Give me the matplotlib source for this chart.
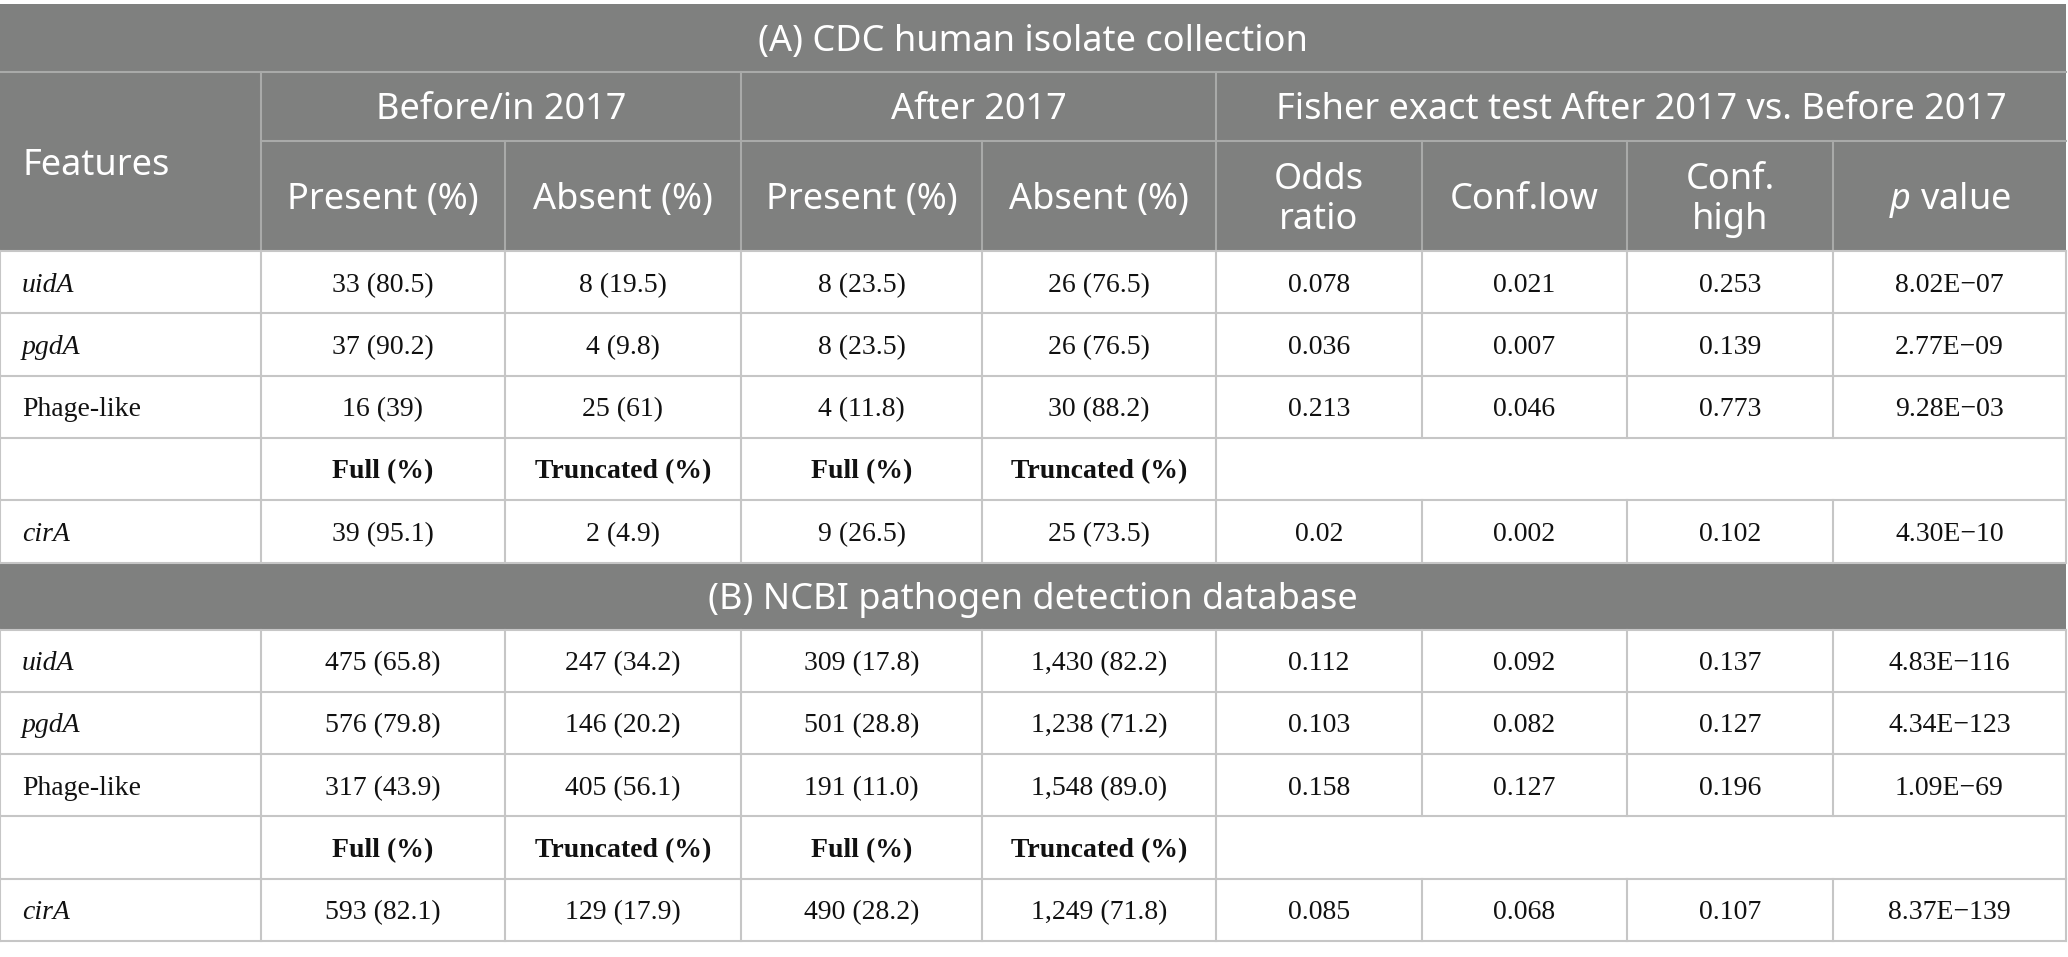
import matplotlib.pyplot as plt
from matplotlib.patches import Rectangle

plt.rcParams['mathtext.fontset'] = 'custom'
plt.rcParams['mathtext.rm'] = 'Noto Sans'
plt.rcParams['mathtext.it'] = 'Noto Sans:italic'

# table content
title_a = '(A) CDC human isolate collection'
title_b = '(B) NCBI pathogen detection database'
groups = ['Before/in 2017', 'After 2017', 'Fisher exact test After 2017 vs. Before 2017']
subheaders = ['Present (%)', 'Absent (%)', 'Present (%)', 'Absent (%)',
              'Odds\nratio', 'Conf.low', 'Conf.\nhigh', '$p$ value']
features = ['uidA', 'pgdA', 'Phage-like', '', 'cirA']
italic_feat = ['uidA', 'pgdA', 'cirA']
full_labels = ['Full (%)', 'Truncated (%)', 'Full (%)', 'Truncated (%)']

cdc_rows = [
    ['33 (80.5)', '8 (19.5)', '8 (23.5)', '26 (76.5)', '0.078', '0.021', '0.253', '8.02E\u221207'],
    ['37 (90.2)', '4 (9.8)', '8 (23.5)', '26 (76.5)', '0.036', '0.007', '0.139', '2.77E\u221209'],
    ['16 (39)', '25 (61)', '4 (11.8)', '30 (88.2)', '0.213', '0.046', '0.773', '9.28E\u221203'],
]
cdc_cira = ['39 (95.1)', '2 (4.9)', '9 (26.5)', '25 (73.5)', '0.02', '0.002', '0.102', '4.30E\u221210']

ncbi_rows = [
    ['475 (65.8)', '247 (34.2)', '309 (17.8)', '1,430 (82.2)', '0.112', '0.092', '0.137', '4.83E\u2212116'],
    ['576 (79.8)', '146 (20.2)', '501 (28.8)', '1,238 (71.2)', '0.103', '0.082', '0.127', '4.34E\u2212123'],
    ['317 (43.9)', '405 (56.1)', '191 (11.0)', '1,548 (89.0)', '0.158', '0.127', '0.196', '1.09E\u221269'],
]
ncbi_cira = ['593 (82.1)', '129 (17.9)', '490 (28.2)', '1,249 (71.8)', '0.085', '0.068', '0.107', '8.37E\u2212139']

# layout (pixels)
col_x = [0, 261, 505, 741, 982, 1216, 1422, 1627, 1833, 2066]
grey = '#7f807f'
hline = '#a9aaa9'
bline = '#c6c6c6'
lw = 1.5
head_font = 'Noto Sans'
body_font = 'Liberation Serif'
hsize = 26
bsize = 20

fig = plt.figure(figsize=(20.68, 9.57), dpi=100)
ax = fig.add_axes([0, 0, 1, 1])
ax.set_xlim(0, 2068)
ax.set_ylim(957, 0)
ax.axis('off')

def cx(i, j=None):
    j = i if j is None else j
    return (col_x[i] + col_x[j + 1]) / 2

# header block
ax.add_patch(Rectangle((0, 4), 2066, 247, color=grey, lw=0))
ax.text(1033, 42, title_a, color='white', fontsize=hsize, family=head_font, ha='center', va='center')
ax.plot([0, 2066], [72, 72], color=hline, lw=lw)
ax.plot([261, 2066], [141, 141], color=hline, lw=lw)
ax.plot([261, 261], [72, 251], color=hline, lw=lw)
for x in [741, 1216]:
    ax.plot([x, x], [72, 251], color=hline, lw=lw)
for x in [505, 982, 1422, 1627, 1833]:
    ax.plot([x, x], [141, 251], color=hline, lw=lw)
ax.text(22, 166, 'Features', color='white', fontsize=hsize, family=head_font, ha='left', va='center')
spans = [(1, 2), (3, 4), (5, 8)]
for g, (a, b) in zip(groups, spans):
    ax.text(cx(a, b), 110, g, color='white', fontsize=hsize, family=head_font, ha='center', va='center')
for k, s in enumerate(subheaders):
    ax.text(cx(k + 1), 200, s, color='white', fontsize=hsize, family=head_font,
            ha='center', va='center', linespacing=1.12)


def section(top, rows, cira):
    edges = [top + 62.3 * i for i in range(6)]
    for y in edges:
        ax.plot([0, 2066], [y, y], color=bline, lw=lw)
    for r in range(5):
        y0, y1 = edges[r], edges[r + 1]
        xs = col_x if r != 3 else col_x[:6] + [2066]
        for x in xs:
            ax.plot([x, x], [y0, y1], color=bline, lw=lw)
        yc = (y0 + y1) / 2 + 3
        f = features[r]
        ax.text(22, yc, f, fontsize=bsize, family=body_font, ha='left', va='center',
                style='italic' if f in italic_feat else 'normal', color='#111111')
        if r < 3:
            vals = rows[r]
        elif r == 3:
            vals = full_labels
        else:
            vals = cira
        for k, v in enumerate(vals):
            ax.text(cx(k + 1), yc, v, fontsize=bsize, family=body_font, ha='center', va='center',
                    weight='bold' if r == 3 else 'normal', color='#111111')
    return edges[-1]


bottom_a = section(251, cdc_rows, cdc_cira)
ax.add_patch(Rectangle((0, bottom_a), 2066, 67, color=grey, lw=0))
ax.text(1033, bottom_a + 37, title_b, color='white', fontsize=hsize, family=head_font, ha='center', va='center')
section(bottom_a + 67, ncbi_rows, ncbi_cira)

fig.savefig('out.png', dpi=100, facecolor='white')
